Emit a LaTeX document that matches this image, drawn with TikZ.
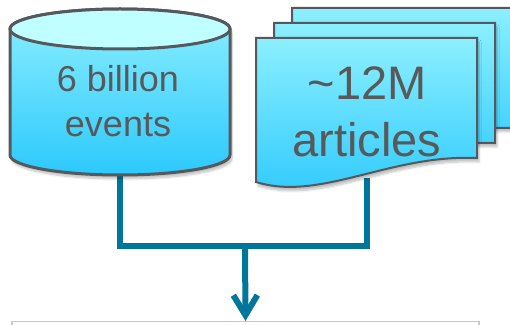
\documentclass[tikz,border=0pt]{standalone}
\usepackage{fontspec}
\setmainfont{Liberation Sans}
\usetikzlibrary{arrows.meta,shadows.blur}
\definecolor{capcyan}{HTML}{BFFFFF}
\definecolor{bodytop}{HTML}{8CEFFF}
\definecolor{bodybottom}{HTML}{2CC9FD}
\definecolor{edgegray}{HTML}{55595E}
\definecolor{labelgray}{HTML}{595959}
\definecolor{linkblue}{HTML}{00769A}
\definecolor{boxgray}{HTML}{C8C8C8}
\begin{document}
\begin{tikzpicture}[x=1pt, y=1pt,
    softshadow/.style={blur shadow={shadow xshift=2pt, shadow yshift=-4pt, shadow opacity=25, shadow blur steps=6}},
    drum/.style={draw=edgegray, line width=3pt, top color=bodytop, bottom color=bodybottom, softshadow},
    page/.style={draw=edgegray, line width=2pt, top color=bodytop, bottom color=bodybottom, softshadow},
    conn/.style={draw=linkblue, line width=6pt},
    label/.style={text=labelgray, align=center}]
  \useasboundingbox (0,0) rectangle (510,324);
  \node[draw=boxgray, line width=1.2pt, minimum width=467pt, minimum height=60pt, anchor=north] (result) at (245.5,3) {};
  \coordinate (dbbase) at (120,152);
  \coordinate (docbase) at (367,146);
  \coordinate (merge) at (245,78);
  \draw[conn] (dbbase) |- (merge) -| (docbase);
  \draw[conn, -{Straight Barb[length=20pt, width=24pt]}] (merge) -- (result.north);
  % stacked pages, back to front
  \foreach \dx/\dy in {36/30, 18/15, 0/0} {
    \filldraw[page, shift={(\dx,\dy)}] (256,286) -- (477,286) -- (477,166)
      .. controls (390,170) and (320,122) .. (256,142) -- cycle;
  }
  % database drum
  \filldraw[drum] (10,295) -- (10,169) arc[start angle=180, end angle=360, x radius=110, y radius=20]
    -- (230,295) arc[start angle=0, end angle=180, x radius=110, y radius=20] -- cycle;
  \filldraw[draw=edgegray, line width=3pt, fill=capcyan] (120,295) ellipse [x radius=110, y radius=20];
  \node[label, font=\fontsize{36}{45}\selectfont] (events) at (118,222.5) {6 billion\\events};
  \node[label, font=\fontsize{47}{57}\selectfont] (articles) at (367,212) {\textasciitilde12M\\articles};
\end{tikzpicture}
\end{document}
